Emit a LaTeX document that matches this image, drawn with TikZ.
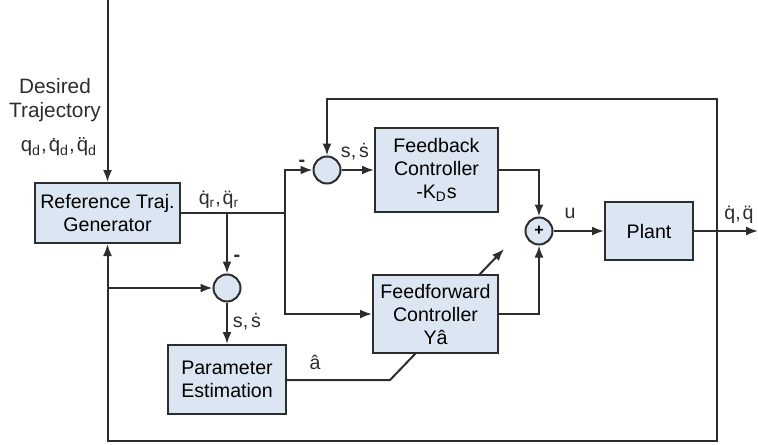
\documentclass[tikz,border=0pt]{standalone}
\usepackage{fontspec}
\setmainfont{Liberation Sans}
\usetikzlibrary{arrows.meta}
\definecolor{boxfill}{RGB}{220,230,242}
\definecolor{linegray}{RGB}{45,45,45}

\begin{document}
\begin{tikzpicture}[x=0.5pt,y=-0.5pt,
  block/.style={draw=linegray, line width=1pt, fill=boxfill, align=center, inner sep=1pt,
    font=\fontsize{9.8}{11.5}\selectfont},
  sumcirc/.style={draw=linegray, line width=1pt, fill=boxfill, circle, minimum size=13.5pt, inner sep=0pt,
    font=\fontsize{8}{8}\selectfont\bfseries},
  lbl/.style={font=\fontsize{9.8}{12}\selectfont, inner sep=0pt, text=linegray},
  wire/.style={draw=linegray, line width=1pt},
  >={Latex[length=6pt,width=4.5pt]}]

\useasboundingbox (0,0) rectangle (758,444);

% Blocks
\node[block, minimum width=72.5pt, minimum height=30pt] (ref) at (107.5,213) {Reference Traj.\\Generator};
\node[block, minimum width=61.5pt, minimum height=42pt] (fb) at (436.5,170) {Feedback\\Controller\\-K\textsubscript{D}s};
\node[block, minimum width=62.5pt, minimum height=39pt] (ff) at (435.5,314) {Feedforward\\Controller\\Y\^{a}};
\node[block, minimum width=59pt, minimum height=34.5pt] (pe) at (227,379.5) {Parameter\\Estimation};
\node[block, minimum width=44pt, minimum height=29pt] (plant) at (649,231) {Plant};

% Summing junctions
\node[sumcirc] (s1) at (327,170) {};
\node[sumcirc] (s2) at (227,288) {};
\node[sumcirc] (su) at (539,231) {+};

% Branch points and free ends
\coordinate (in) at (107.5,0);
\coordinate (j1) at (227,213);
\coordinate (j2) at (285,213);
\coordinate (j3) at (107.5,288);
\coordinate (tap) at (717,231);
\coordinate (top) at (717,99);
\coordinate (bot) at (717,441);
\coordinate (out) at (758,231);
\coordinate (ahat) at (390,380);
\coordinate (ffin) at (416,353);

% Forward path
\draw[wire,->] (in) -- (ref.north);
\draw[wire] (ref.east) -- (j2);
\draw[wire,->] (j2) |- (s1.west);
\draw[wire,->] (j2) |- (ff.west);
\draw[wire,->] (j1) -- (s2.north);
\draw[wire,->] (s1) -- (fb);
\draw[wire,->] (fb.east) -| (su.north);
\draw[wire,->] (ff.east) -| (su.south);
\draw[wire,->] (su) -- (plant);
\draw[wire,->] (plant.east) -- (out);

% Feedback paths
\draw[wire,->] (tap) -- (top) -| (s1.north);
\draw[wire,->] (tap) -- (bot) -| (ref.south);
\draw[wire,->] (j3) -- (s2.west);

% Adaptation
\draw[wire,->] (s2) -- (pe);
\draw[wire] (pe.east |- ahat) -- (ahat) -- (ffin);
\draw[wire,->] (479,275) -- ++(25,-26);

% Labels
\node[lbl, align=center, font=\fontsize{10.4}{12.2}\selectfont] (des) at (55,100) {Desired\\Trajectory};
\node[lbl, font=\fontsize{10.2}{12}\selectfont] (qd) at (59,147) {q\textsubscript{d},\kern1pt\.{q}\textsubscript{d},\kern1pt\"{q}\textsubscript{d}};
\node[lbl] (qr) at (219,200) {\.{q}\textsubscript{r},\kern1pt\"{q}\textsubscript{r}};
\node[lbl, font=\bfseries] (m1) at (302,163) {-};
\node[lbl, font=\bfseries] (m2) at (237,258) {-};
\node[lbl] (e1) at (355,152) {s,\kern1.5pt\.{s}};
\node[lbl] (e2) at (247,322) {s,\kern1.5pt\.{s}};
\node[lbl] (u) at (570,213) {u};
\node[lbl] (qo) at (739,215) {\.{q},\kern1pt\"{q}};
\node[lbl] (ah) at (315,362) {\^{a}};

\end{tikzpicture}
\end{document}
